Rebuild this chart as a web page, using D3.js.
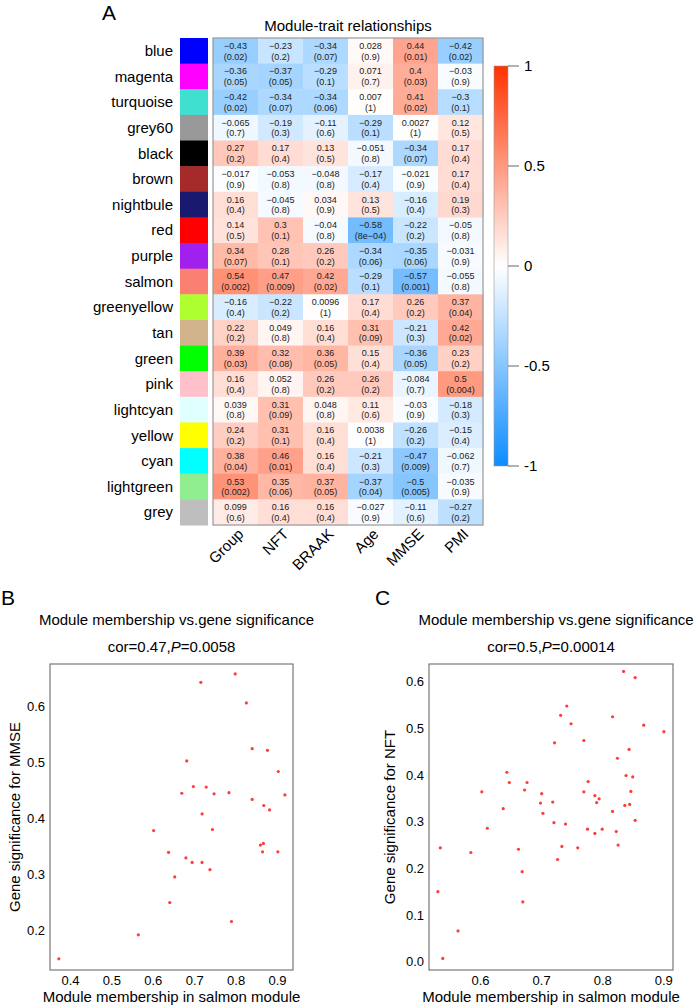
<!DOCTYPE html>
<html>
<head>
<meta charset="UTF-8">
<script src="https://d3js.org/d3.v7.min.js"></script>
<style>
  body { margin: 0; background: #fff; }
  svg { display: block; font-family: "Liberation Sans", Arial, Helvetica, sans-serif; }
</style>
</head>
<body>
<svg id="fig" width="697" height="1006"></svg>
<script>

// ---- data ----
var modules = ["blue", "magenta", "turquoise", "grey60", "black", "brown", "nightbule", "red", "purple",
  "salmon", "greenyellow", "tan", "green", "pink", "lightcyan", "yellow", "cyan", "lightgreen", "grey"];
var moduleColors = ["#0000FF", "#FF00FF", "#40E0D0", "#999999", "#000000", "#A52A2A", "#191970", "#FF0000", "#A020F0",
  "#FA8072", "#ADFF2F", "#D2B48C", "#00FF00", "#FFC0CB", "#E0FFFF", "#FFFF00", "#00FFFF", "#90EE90", "#BEBEBE"];
var traits = ["Group", "NFT", "BRAAK", "Age", "MMSE", "PMI"];

// one row per module, one column per trait
var corValues = [
  [-0.43, -0.23, -0.34, 0.028, 0.44, -0.42],
  [-0.36, -0.37, -0.29, 0.071, 0.4, -0.03],
  [-0.42, -0.34, -0.34, 0.007, 0.41, -0.3],
  [-0.065, -0.19, -0.11, -0.29, 0.0027, 0.12],
  [0.27, 0.17, 0.13, -0.051, -0.34, 0.17],
  [-0.017, -0.053, -0.048, -0.17, -0.021, 0.17],
  [0.16, -0.045, 0.034, 0.13, -0.16, 0.19],
  [0.14, 0.3, -0.04, -0.58, -0.22, -0.05],
  [0.34, 0.28, 0.26, -0.34, -0.35, -0.031],
  [0.54, 0.47, 0.42, -0.29, -0.57, -0.055],
  [-0.16, -0.22, 0.0096, 0.17, 0.26, 0.37],
  [0.22, 0.049, 0.16, 0.31, -0.21, 0.42],
  [0.39, 0.32, 0.36, 0.15, -0.36, 0.23],
  [0.16, 0.052, 0.26, 0.26, -0.084, 0.5],
  [0.039, 0.31, 0.048, 0.11, -0.03, -0.18],
  [0.24, 0.31, 0.16, 0.0038, -0.26, -0.15],
  [0.38, 0.46, 0.16, -0.21, -0.47, -0.062],
  [0.53, 0.35, 0.37, -0.37, -0.5, -0.035],
  [0.099, 0.16, 0.16, -0.027, -0.11, -0.27]
];
var pValues = [
  ["0.02", "0.2", "0.07", "0.9", "0.01", "0.02"],
  ["0.05", "0.05", "0.1", "0.7", "0.03", "0.9"],
  ["0.02", "0.07", "0.06", "1", "0.02", "0.1"],
  ["0.7", "0.3", "0.6", "0.1", "1", "0.5"],
  ["0.2", "0.4", "0.5", "0.8", "0.07", "0.4"],
  ["0.9", "0.8", "0.8", "0.4", "0.9", "0.4"],
  ["0.4", "0.8", "0.9", "0.5", "0.4", "0.3"],
  ["0.5", "0.1", "0.8", "8e-04", "0.2", "0.8"],
  ["0.07", "0.1", "0.2", "0.06", "0.06", "0.9"],
  ["0.002", "0.009", "0.02", "0.1", "0.001", "0.8"],
  ["0.4", "0.2", "1", "0.4", "0.2", "0.04"],
  ["0.2", "0.8", "0.4", "0.09", "0.3", "0.02"],
  ["0.03", "0.08", "0.05", "0.4", "0.05", "0.2"],
  ["0.4", "0.8", "0.2", "0.2", "0.7", "0.004"],
  ["0.8", "0.09", "0.8", "0.6", "0.9", "0.3"],
  ["0.2", "0.1", "0.4", "1", "0.2", "0.4"],
  ["0.04", "0.01", "0.4", "0.3", "0.009", "0.7"],
  ["0.002", "0.06", "0.05", "0.04", "0.005", "0.9"],
  ["0.6", "0.4", "0.4", "0.9", "0.6", "0.2"]
];
var legendTicks = [1, 0.5, 0, -0.5, -1];

// panel B: salmon module membership vs MMSE significance
var mmB = [0.373, 0.565, 0.602, 0.638, 0.641, 0.653, 0.670, 0.680, 0.682, 0.695, 0.698, 0.716, 0.719, 0.719,
  0.729, 0.738, 0.744, 0.748, 0.784, 0.790, 0.799, 0.826, 0.840, 0.840, 0.860, 0.865, 0.867, 0.868, 0.877,
  0.882, 0.902, 0.903, 0.919];
var gsB = [0.148, 0.191, 0.378, 0.339, 0.249, 0.295, 0.445, 0.329, 0.503, 0.321, 0.457, 0.644, 0.321, 0.408,
  0.456, 0.308, 0.380, 0.444, 0.446, 0.215, 0.659, 0.607, 0.525, 0.434, 0.352, 0.340, 0.355, 0.423, 0.522,
  0.415, 0.340, 0.484, 0.442];
var xTicksB = [0.4, 0.5, 0.6, 0.7, 0.8, 0.9];
var yTicksB = [0.2, 0.3, 0.4, 0.5, 0.6];

// panel C: salmon module membership vs NFT significance
var mmC = [0.531, 0.535, 0.539, 0.564, 0.585, 0.603, 0.612, 0.638, 0.644, 0.648, 0.663, 0.669, 0.670, 0.673,
  0.677, 0.699, 0.701, 0.703, 0.719, 0.721, 0.722, 0.727, 0.732, 0.734, 0.740, 0.742, 0.749, 0.760, 0.770,
  0.770, 0.776, 0.777, 0.788, 0.788, 0.791, 0.795, 0.800, 0.817, 0.817, 0.823, 0.825, 0.826, 0.835, 0.837,
  0.839, 0.844, 0.845, 0.847, 0.850, 0.854, 0.854, 0.868, 0.901];
var gsC = [0.150, 0.244, 0.007, 0.066, 0.234, 0.364, 0.286, 0.328, 0.406, 0.384, 0.241, 0.193, 0.128, 0.368,
  0.384, 0.340, 0.360, 0.318, 0.342, 0.298, 0.469, 0.219, 0.528, 0.247, 0.295, 0.548, 0.510, 0.244, 0.474,
  0.364, 0.284, 0.386, 0.356, 0.275, 0.341, 0.349, 0.284, 0.322, 0.525, 0.279, 0.436, 0.250, 0.622, 0.335,
  0.399, 0.455, 0.337, 0.365, 0.396, 0.609, 0.303, 0.507, 0.493];
var xTicksC = [0.6, 0.7, 0.8, 0.9];
var yTicksC = [0.0, 0.1, 0.2, 0.3, 0.4, 0.5, 0.6];

// ---- setup ----
var svg = d3.select("#fig");
var txtColor = "#000";
var minus = function(s) { return String(s).replace(/-/g, "\u2212"); };

// WGCNA blueWhiteRed
var colorScale = d3.scaleLinear()
  .domain([-1, 0, 1])
  .range(["rgb(13,140,255)", "#ffffff", "rgb(255,51,0)"]);

// ---- panel A: heatmap ----
var hx = d3.scaleBand().domain(traits).range([213, 483]);
var hy = d3.scaleBand().domain(modules).range([38, 525]);

svg.append("text")
  .attr("x", 102).attr("y", 20)
  .style("font-size", "21px")
  .text("A");

svg.append("text")
  .attr("x", (213 + 483) / 2).attr("y", 31)
  .attr("text-anchor", "middle")
  .style("font-size", "15px")
  .text("Module-trait relationships");

var cells = [];
modules.forEach(function(m, i) {
  traits.forEach(function(t, j) {
    cells.push({module: m, trait: t, r: corValues[i][j], p: pValues[i][j]});
  });
});

var cellG = svg.append("g").attr("class", "cells")
  .selectAll("g")
  .data(cells)
  .enter().append("g")
  .attr("transform", function(d) { return "translate(" + hx(d.trait) + "," + hy(d.module) + ")"; });

cellG.append("rect")
  .attr("width", hx.bandwidth() + 0.5)
  .attr("height", hy.bandwidth() + 0.5)
  .attr("fill", function(d) { return colorScale(d.r); });

cellG.append("text")
  .attr("x", hx.bandwidth() / 2)
  .attr("y", hy.bandwidth() / 2 - 2)
  .attr("text-anchor", "middle")
  .style("font-size", "9px")
  .style("fill", "#222")
  .text(function(d) { return minus(d.r); });

cellG.append("text")
  .attr("x", hx.bandwidth() / 2)
  .attr("y", hy.bandwidth() / 2 + 8.7)
  .attr("text-anchor", "middle")
  .style("font-size", "9px")
  .style("fill", "#222")
  .text(function(d) { return "(" + minus(d.p) + ")"; });

// border
svg.append("rect")
  .attr("x", 213).attr("y", 38)
  .attr("width", 270).attr("height", 487)
  .attr("fill", "none")
  .attr("stroke", "#999")
  .attr("stroke-width", 1.2);

// module colour strip + names
svg.append("g").selectAll("rect")
  .data(modules)
  .enter().append("rect")
  .attr("x", 180)
  .attr("y", function(d) { return hy(d); })
  .attr("width", 28)
  .attr("height", hy.bandwidth() + 0.5)
  .attr("fill", function(d, i) { return moduleColors[i]; });

svg.append("g").selectAll("text")
  .data(modules)
  .enter().append("text")
  .attr("x", 173)
  .attr("y", function(d) { return hy(d) + hy.bandwidth() / 2; })
  .attr("dy", "0.35em")
  .attr("text-anchor", "end")
  .style("font-size", "15px")
  .text(function(d) { return d; });

// trait labels
svg.append("g").selectAll("text")
  .data(traits)
  .enter().append("text")
  .attr("transform", function(d) {
    return "translate(" + (hx(d) + hx.bandwidth() / 2 + 9) + ",535) rotate(-45)";
  })
  .attr("text-anchor", "end")
  .style("font-size", "15px")
  .text(function(d) { return d; });

// colour legend
var ly = d3.scaleLinear().domain([-1, 1]).range([466, 66]);
var defs = svg.append("defs");
var grad = defs.append("linearGradient")
  .attr("id", "cbar")
  .attr("x1", 0).attr("y1", 1).attr("x2", 0).attr("y2", 0);
d3.range(-1, 1.001, 0.1).forEach(function(v) {
  grad.append("stop")
    .attr("offset", ((v + 1) / 2 * 100) + "%")
    .attr("stop-color", colorScale(v));
});

svg.append("rect")
  .attr("x", 494).attr("y", ly(1))
  .attr("width", 14).attr("height", ly(-1) - ly(1))
  .attr("fill", "url(#cbar)")
  .attr("stroke", "#999")
  .attr("stroke-width", 0.6);

var lt = svg.append("g").selectAll("g")
  .data(legendTicks)
  .enter().append("g")
  .attr("transform", function(d) { return "translate(508," + ly(d) + ")"; });
lt.append("line").attr("x1", 0).attr("x2", 11).attr("stroke", "#666");
lt.append("text")
  .attr("x", 16).attr("dy", "0.35em")
  .style("font-size", "15px")
  .text(function(d) { return d3.format("")(d).replace("\u2212", "-"); });

// ---- scatter panels ----
function scatter(opt) {
  var g = svg.append("g");
  var x = d3.scaleLinear().domain(opt.xDomain).range([opt.left, opt.right]);
  var y = d3.scaleLinear().domain(opt.yDomain).range([opt.bottom, opt.top]);
  var cx = (opt.left + opt.right) / 2;

  g.append("text")
    .attr("x", opt.letterX).attr("y", 605)
    .style("font-size", "21px")
    .text(opt.letter);

  g.append("text")
    .attr("x", cx + 5).attr("y", 625)
    .attr("text-anchor", "middle")
    .style("font-size", "15px")
    .text("Module membership vs.gene significance");

  var cor = g.append("text")
    .attr("x", cx).attr("y", 652)
    .attr("text-anchor", "middle")
    .style("font-size", "15px");
  cor.append("tspan").text("cor=" + opt.cor + ",");
  cor.append("tspan").style("font-style", "italic").text("P");
  cor.append("tspan").text("=" + opt.p);

  g.append("rect")
    .attr("x", opt.left).attr("y", opt.top)
    .attr("width", opt.right - opt.left).attr("height", opt.bottom - opt.top)
    .attr("fill", "none")
    .attr("stroke", "#777")
    .attr("stroke-width", 1.2);

  g.append("g")
    .attr("transform", "translate(0," + opt.bottom + ")")
    .call(d3.axisBottom(x).tickValues(opt.xTicks).tickSize(0).tickPadding(6).tickFormat(d3.format(".1f")))
    .call(function(a) { a.select(".domain").remove(); })
    .selectAll("text")
    .attr("fill", txtColor)
    .style("font-size", "13px")
    .style("font-family", "inherit");

  g.append("g")
    .attr("transform", "translate(" + opt.left + ",0)")
    .call(d3.axisLeft(y).tickValues(opt.yTicks).tickSize(0).tickPadding(5).tickFormat(d3.format(".1f")))
    .call(function(a) { a.select(".domain").remove(); })
    .selectAll("text")
    .attr("fill", txtColor)
    .style("font-size", "13px")
    .style("font-family", "inherit");

  g.append("text")
    .attr("x", cx).attr("y", 1002)
    .attr("text-anchor", "middle")
    .style("font-size", "15px")
    .text("Module membership in salmon module");

  g.append("text")
    .attr("transform", "translate(" + opt.yLabelX + "," + ((opt.top + opt.bottom) / 2) + ") rotate(-90)")
    .attr("text-anchor", "middle")
    .style("font-size", "15px")
    .text(opt.yLabel);

  g.append("g").selectAll("circle")
    .data(opt.xs)
    .enter().append("circle")
    .attr("cx", function(d) { return x(d); })
    .attr("cy", function(d, i) { return y(opt.ys[i]); })
    .attr("r", 1.6)
    .attr("fill", "#ff3b3b");
}

scatter({
  letter: "B", letterX: 1,
  left: 50, right: 293, top: 664, bottom: 970,
  xDomain: [0.3517, 0.9386], yDomain: [0.128, 0.6768],
  xTicks: xTicksB, yTicks: yTicksB,
  xs: mmB, ys: gsB,
  cor: "0.47", p: "0.0058",
  yLabel: "Gene significance for MMSE", yLabelX: 20
});

scatter({
  letter: "C", letterX: 375,
  left: 429, right: 673, top: 664, bottom: 970,
  xDomain: [0.5165, 0.9159], yDomain: [-0.0178, 0.638],
  xTicks: xTicksC, yTicks: yTicksC,
  xs: mmC, ys: gsC,
  cor: "0.5", p: "0.00014",
  yLabel: "Gene significance for NFT", yLabelX: 395
});

</script>
</body>
</html>
